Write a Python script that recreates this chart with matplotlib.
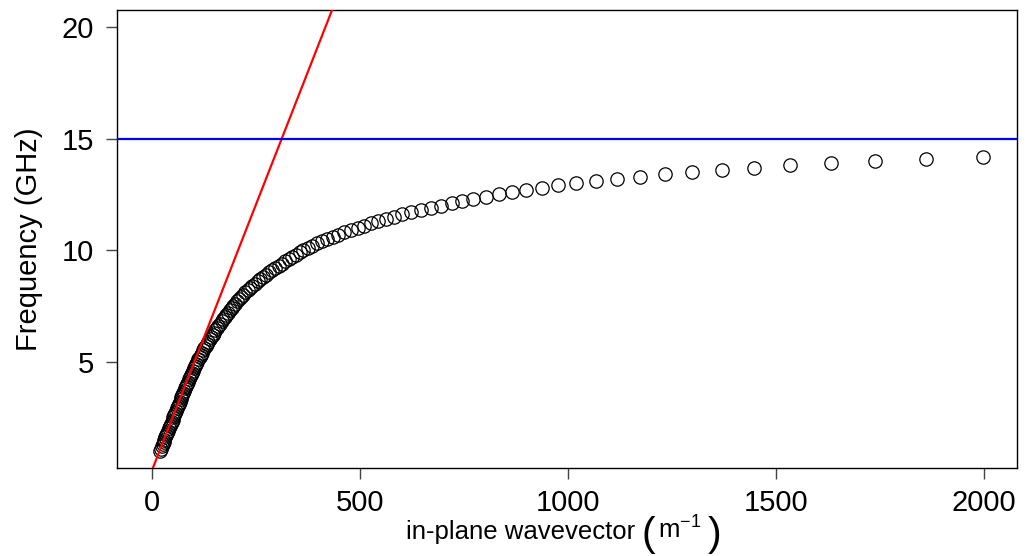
import matplotlib
matplotlib.use("Agg")
import matplotlib.pyplot as plt

# ---- data ----
freq_ghz = [1.0, 1.1, 1.2, 1.3, 1.4, 1.5, 1.6, 1.7, 1.8, 1.9,
            2.0, 2.1, 2.2, 2.3, 2.4, 2.5, 2.6, 2.7, 2.8, 2.9,
            3.0, 3.1, 3.2, 3.3, 3.4, 3.5, 3.6, 3.7, 3.8, 3.9,
            4.0, 4.1, 4.2, 4.3, 4.4, 4.5, 4.6, 4.7, 4.8, 4.9,
            5.0, 5.1, 5.2, 5.3, 5.4, 5.5, 5.6, 5.7, 5.8, 5.9,
            6.0, 6.1, 6.2, 6.3, 6.4, 6.5, 6.6, 6.7, 6.8, 6.9,
            7.0, 7.1, 7.2, 7.3, 7.4, 7.5, 7.6, 7.7, 7.8, 7.9,
            8.0, 8.1, 8.2, 8.3, 8.4, 8.5, 8.6, 8.7, 8.8, 8.9,
            9.0, 9.1, 9.2, 9.3, 9.4, 9.5, 9.6, 9.7, 9.8, 9.9,
            10.0, 10.1, 10.2, 10.3, 10.4, 10.5, 10.6, 10.7, 10.8, 10.9,
            11.0, 11.1, 11.2, 11.3, 11.4, 11.5, 11.6, 11.7, 11.8, 11.9,
            12.0, 12.1, 12.2, 12.3, 12.4, 12.5, 12.6, 12.7, 12.8, 12.9,
            13.0, 13.1, 13.2, 13.3, 13.4, 13.5, 13.6, 13.7, 13.8, 13.9,
            14.0, 14.1, 14.2]

wavevector = [20.0, 22.2, 24.4, 26.6, 28.8, 31.0, 33.2, 35.4, 37.6, 39.8,
              42.0, 44.1, 46.2, 48.3, 50.4, 52.5, 54.6, 56.7, 58.8, 60.9,
              63.0, 65.2, 67.4, 69.6, 71.8, 74.0, 76.2, 78.4, 80.6, 82.8,
              85.0, 87.3, 89.6, 92.0, 94.4, 96.8, 99.3, 101.8, 104.4, 107.1,
              110.0, 112.6, 115.3, 118.1, 120.9, 123.8, 126.8, 129.9, 133.1, 136.5,
              140.0, 143.2, 146.5, 149.9, 153.4, 157.0, 160.7, 164.5, 168.3, 172.1,
              176.0, 179.9, 183.9, 188.0, 192.2, 196.5, 200.9, 205.4, 210.0, 214.8,
              220.0, 225.3, 230.8, 236.5, 242.4, 248.5, 254.8, 261.3, 268.1, 275.2,
              283.0, 290.2, 297.6, 305.2, 313.0, 321.1, 329.4, 337.9, 346.7, 355.7,
              365.0, 375.5, 386.5, 398.0, 410.0, 422.5, 435.5, 449.0, 463.5, 479.0,
              495.0, 510.5, 527.0, 544.5, 563.0, 582.5, 603.0, 624.5, 647.0, 670.5,
              696.0, 721.0, 746.0, 773.0, 803.0, 834.0, 866.0, 900.0, 938.0, 978.0,
              1021.0, 1068.0, 1119.0, 1174.0, 1234.0, 1299.0, 1370.0, 1448.0, 1534.0, 1632.0,
              1739.0, 1861.0, 1999.0]

light_line_intercept = 0.08     # GHz
light_line_slope = 0.0477       # GHz per m^-1
surface_freq = 15.0             # GHz

x_ticks = [0, 500, 1000, 1500, 2000]
y_ticks = [5, 10, 15, 20]

FS = 21
FS_XLAB = 18.5

# ---- style ----
plt.rcParams['font.family'] = ['Liberation Sans', 'DejaVu Sans']
plt.rcParams['mathtext.fontset'] = 'custom'
plt.rcParams['mathtext.rm'] = 'Liberation Sans'
plt.rcParams['mathtext.it'] = 'Liberation Sans:italic'
plt.rcParams['mathtext.bf'] = 'Liberation Sans:bold'

W, H = 1027, 556
fig = plt.figure(figsize=(W / 100, H / 100), dpi=100)
ax = fig.add_axes([0.1144, 0.1588, 0.9906 - 0.1144, 0.9815 - 0.1588])

ax.plot(wavevector, freq_ghz, linestyle='none', marker='o', markersize=9.6,
        markerfacecolor='none', markeredgecolor='black', markeredgewidth=0.9,
        zorder=2)
ax.axline((0, light_line_intercept), slope=light_line_slope, color='#ff0000',
          linewidth=1.6, zorder=3)
ax.axhline(surface_freq, color='#0000ff', linewidth=1.6, zorder=3)

ax.set_xlim(-82, 2081)
ax.set_ylim(0.24, 20.76)
ax.set_xticks(x_ticks)
ax.set_yticks(y_ticks)
ax.set_xticklabels([str(t) for t in x_ticks])
ax.set_yticklabels([str(t) for t in y_ticks])

for s in ax.spines.values():
    s.set_linewidth(1.0)
    s.set_color('black')

ax.tick_params(axis='both', direction='out', length=8, width=1.0,
               color='#444444', labelsize=FS)
ax.tick_params(axis='x', pad=7)
ax.tick_params(axis='y', pad=9)

ax.set_ylabel('Frequency (GHz)', fontsize=FS, labelpad=13)

# x label composed of pieces: text, tall parentheses, unit with exponent
renderer = fig.canvas.get_renderer()
baseline_y = 1 - 539 / H
pieces = [
    ('in-plane wavevector', FS_XLAB, 0),
    ('(', FS_XLAB * 1.6, 7),
    (r'm$^{-1}$', FS_XLAB, 3),
    (')', FS_XLAB * 1.6, 6),
]
texts = []
for s, size, gap in pieces:
    t = fig.text(0, baseline_y, s, fontsize=size, ha='left', va='baseline')
    texts.append((t, gap))
widths = []
for t, gap in texts:
    bb = t.get_window_extent(renderer=renderer)
    widths.append(bb.width)
total = sum(widths) + sum(g for _, g in texts)
center_px = 563.5
x_px = center_px - total / 2
for (t, gap), w in zip(texts, widths):
    x_px += gap
    t.set_x(x_px / W)
    x_px += w
# lower the parentheses so they span below the baseline like a big group
texts[1][0].set_y(1 - 546 / H)
texts[3][0].set_y(1 - 546 / H)

fig.savefig('out.png', dpi=100)
